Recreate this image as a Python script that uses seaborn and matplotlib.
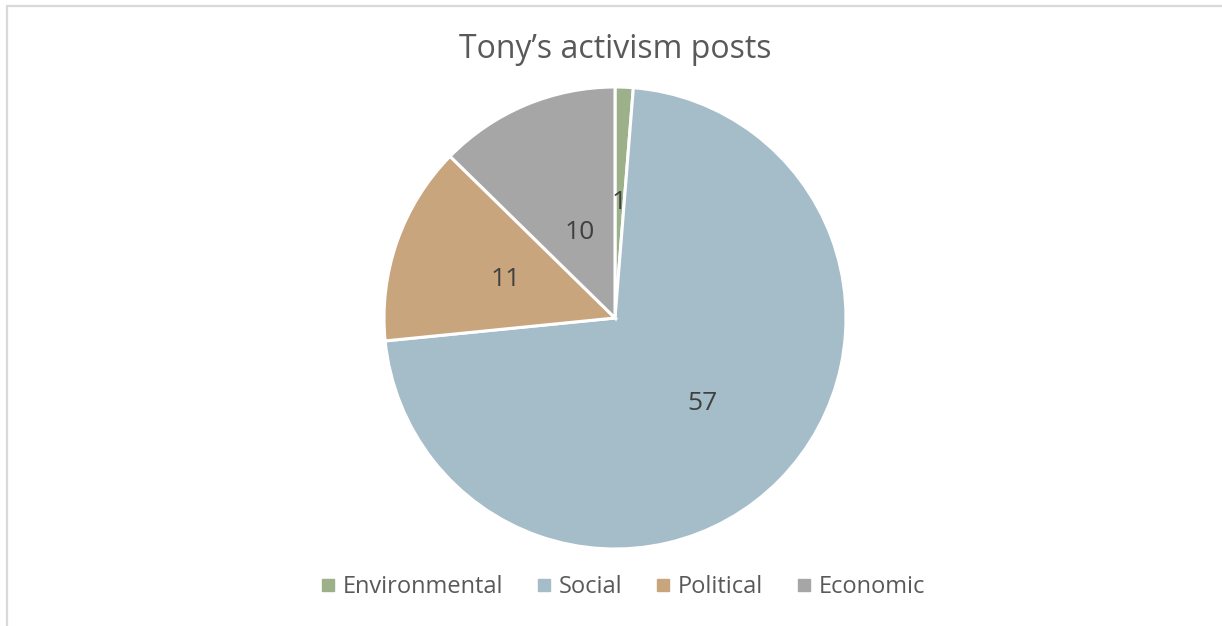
import numpy as np
import matplotlib
matplotlib.use("Agg")
import matplotlib.pyplot as plt
from matplotlib.lines import Line2D
import seaborn as sns

categories = ["Environmental", "Social", "Political", "Economic"]
values = [1, 57, 11, 10]
colors = ["#9CB08A", "#A5BCC9", "#C9A57D", "#A6A6A6"]

sns.set_theme(style="white")
plt.rcParams['font.family'] = ['Open Sans', 'DejaVu Sans']
text_color = "#595959"
label_color = "#404040"

W, H = 1222, 626
fig = plt.figure(figsize=(W / 100, H / 100), dpi=100)

# pie axes sized in pixels: center (615, 318), radius 231
cx, cy, r = 615, 318, 231
ax = fig.add_axes([(cx - r) / W, (H - cy - r) / H, 2 * r / W, 2 * r / H])
wedges, _ = ax.pie(values, colors=colors, startangle=90, counterclock=False,
                   wedgeprops=dict(edgecolor="white", linewidth=2.2))
ax.set_xlim(-1, 1)
ax.set_ylim(-1, 1)
ax.set_aspect("equal")
ax.axis("off")

# value labels inside slices
dists = [0.5, 0.53, 0.5, 0.4]
for w, v, d in zip(wedges, values, dists):
    ang = np.deg2rad((w.theta1 + w.theta2) / 2)
    ax.text(d * np.cos(ang), d * np.sin(ang), str(v), ha="center", va="center",
            fontsize=19, color=label_color)

fig.text(615 / W, 1 - 50 / H, "Tony\u2019s activism posts", ha="center", va="center",
         fontsize=23, color=text_color)

handles = [Line2D([0], [0], marker="s", linestyle="none", markersize=8,
                  markerfacecolor=c, markeredgecolor=c) for c in colors]
fig.legend(handles, categories, loc="center", bbox_to_anchor=(623 / W, 1 - 587 / H),
           ncol=4, frameon=False, fontsize=17, handlelength=0.6, handletextpad=0.35,
           columnspacing=1.4, labelcolor=text_color)

# chart area border (left and top edges visible)
border = "#D9D9D9"
fig.add_artist(Line2D([6.5 / W, 6.5 / W], [0, 1 - 5.5 / H], color=border, linewidth=1.6,
                      transform=fig.transFigure))
fig.add_artist(Line2D([6.5 / W, 1], [1 - 5.5 / H, 1 - 5.5 / H], color=border, linewidth=1.6,
                      transform=fig.transFigure))

fig.savefig("out.png", dpi=100, facecolor="white")
